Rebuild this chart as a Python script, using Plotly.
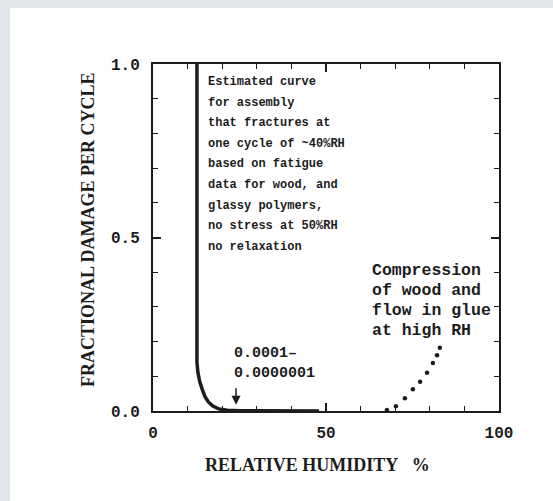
import plotly.graph_objects as go

# ---- data ----
rh_fatigue = [12.7, 12.7, 12.7, 12.7, 13.0, 13.5, 14.2, 15.0, 16.0, 17.3, 19.0, 21.5, 25.0, 35.0, 48.0]
dmg_fatigue = [1.0, 0.6, 0.3, 0.14, 0.11, 0.085, 0.063, 0.042, 0.026, 0.014, 0.006, 0.002, 0.0006, 0.0001, 0.0]

rh_compression = [67.6, 70.2, 72.8, 75.1, 77.2, 79.2, 80.9, 82.1, 82.9]
dmg_compression = [0.003, 0.014, 0.037, 0.063, 0.084, 0.110, 0.138, 0.161, 0.182]

x_tickvals = [0, 50, 100]
x_ticktext = ["0", "50", "100"]
y_tickvals = [0.0, 0.5, 1.0]
y_ticktext = ["0.0", "0.5", "1.0"]

note_fatigue = [
    "Estimated curve",
    "for assembly",
    "that fractures at",
    "one cycle of ~40%RH",
    "based on fatigue",
    "data for wood, and",
    "glassy polymers,",
    "no stress at 50%RH",
    "no relaxation",
]
note_compression = ["Compression", "of wood and", "flow in glue", "at high RH"]
note_range = ["0.0001\u2013", "0.0000001"]

x_title = "RELATIVE HUMIDITY\u00a0\u00a0\u00a0%"
y_title = "FRACTIONAL DAMAGE PER CYCLE"

# ---- figure ----
INK = "#1c1c1c"
PAGE = "#e3e7ec"
W, H = 553, 501
ML, MT, PW, PH = 153, 64, 346, 347
MR, MB = W - ML - PW, H - MT - PH

fig = go.Figure()
fig.add_trace(go.Scatter(x=rh_fatigue, y=dmg_fatigue, mode="lines",
                         line=dict(color=INK, width=3.5), showlegend=False, hoverinfo="skip"))
fig.add_trace(go.Scatter(x=rh_compression, y=dmg_compression, mode="markers",
                         marker=dict(color=INK, size=4.5), showlegend=False, hoverinfo="skip"))

mono = "Liberation Mono"
serif = "Liberation Serif"

annotations = []
for i, t in enumerate(note_fatigue):
    annotations.append(dict(x=15.3, y=0.948 - 0.0594 * i, xref="x", yref="y", text="<b>%s</b>" % t,
                            showarrow=False, xanchor="left", yanchor="middle",
                            font=dict(family=mono, size=12, color=INK)))
for i, t in enumerate(note_compression):
    annotations.append(dict(x=62.7, y=0.406 - 0.0576 * i, xref="x", yref="y", text="<b>%s</b>" % t,
                            showarrow=False, xanchor="left", yanchor="middle",
                            font=dict(family=mono, size=16.5, color=INK)))
for i, t in enumerate(note_range):
    annotations.append(dict(x=22.8, y=0.167 - 0.0576 * i, xref="x", yref="y", text="<b>%s</b>" % t,
                            showarrow=False, xanchor="left", yanchor="middle",
                            font=dict(family=mono, size=15, color=INK)))
# down arrow
annotations.append(dict(x=24.0, y=0.018, xref="x", yref="y", text="", showarrow=True,
                        ax=0, ay=-18, arrowhead=2, arrowsize=1.2, arrowwidth=1.5, arrowcolor=INK))
# axis titles
annotations.append(dict(x=(88 - ML) / PW, y=(MT + PH - 230) / PH, xref="paper", yref="paper",
                        text="<b>%s</b>" % y_title, textangle=-90, showarrow=False,
                        xanchor="center", yanchor="middle",
                        font=dict(family=serif, size=18, color=INK)))
annotations.append(dict(x=(317 - ML) / PW, y=(MT + PH - 465) / PH, xref="paper", yref="paper",
                        text="<b>%s</b>" % x_title, showarrow=False,
                        xanchor="center", yanchor="middle",
                        font=dict(family=serif, size=18, color=INK)))

# page-coloured strips along the top and left edges
shapes = [
    dict(type="rect", xref="paper", yref="paper", layer="below",
         x0=(0 - ML) / PW, x1=(10 - ML) / PW, y0=-1, y1=2,
         fillcolor=PAGE, line=dict(width=0)),
    dict(type="rect", xref="paper", yref="paper", layer="below",
         x0=-1, x1=2, y0=(MT + PH - 8) / PH, y1=(MT + PH) / PH,
         fillcolor=PAGE, line=dict(width=0)),
]

axis_common = dict(showline=True, linecolor=INK, linewidth=2, mirror="allticks",
                   ticks="inside", ticklen=8, tickwidth=1.5, tickcolor=INK,
                   showgrid=False, zeroline=False,
                   tickfont=dict(family=mono, size=16, color=INK, weight="bold"))

fig.update_layout(
    width=W, height=H,
    margin=dict(l=ML, r=MR, t=MT, b=MB),
    paper_bgcolor="white",
    plot_bgcolor="white",
    showlegend=False,
    annotations=annotations,
    shapes=shapes,
    xaxis=dict(range=[0, 100], tickvals=x_tickvals, ticktext=x_ticktext,
               minor=dict(dtick=10, ticks="inside", ticklen=5, tickwidth=1.2, tickcolor=INK),
               ticklabelstandoff=6, **axis_common),
    yaxis=dict(range=[0, 1], tickvals=y_tickvals, ticktext=y_ticktext,
               minor=dict(dtick=0.1, ticks="inside", ticklen=5, tickwidth=1.2, tickcolor=INK),
               ticklabelstandoff=8, **axis_common),
)

fig.write_html(
    "out.html",
    config={"displayModeBar": False},
    post_script="document.body.style.margin='0';document.body.style.overflow='hidden';",
)
